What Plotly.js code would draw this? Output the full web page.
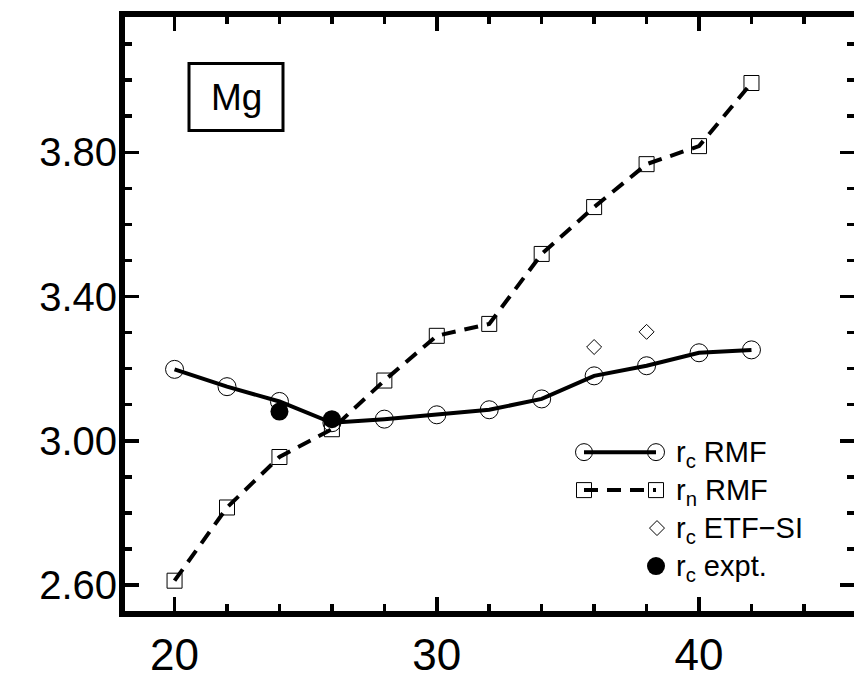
<!DOCTYPE html>
<html>
<head>
<meta charset="utf-8">
<script src="https://cdn.plot.ly/plotly-3.0.1.min.js"></script>
<style>html,body{margin:0;padding:0;overflow:hidden;background:#fff}</style>
</head>
<body>
<div id="chart" style="width:854px;height:683px"></div>
<script>
// Mass number A
const massNumber = [20, 22, 24, 26, 28, 30, 32, 34, 36, 38, 40, 42];
// r_c RMF (charge radius)
const rcRMF = [3.198, 3.150, 3.109, 3.050, 3.060, 3.072, 3.086, 3.116, 3.180, 3.208, 3.244, 3.252];
// r_n RMF (neutron radius)
const rnRMF = [2.612, 2.815, 2.955, 3.032, 3.167, 3.291, 3.324, 3.518, 3.648, 3.767, 3.817, 3.992];
// r_c ETF-SI
const etfA = [36, 38];
const rcETF = [3.260, 3.302];
// r_c experiment
const exptA = [24, 26];
const rcExpt = [3.081, 3.060];
// Legend labels
const legendLabels = ["r<sub>c</sub> RMF", "r<sub>n</sub> RMF", "r<sub>c</sub> ETF\u2212SI", "r<sub>c</sub> expt."];
const xTicks = [20, 30, 40];
const yTicks = [2.6, 3.0, 3.4, 3.8];

const FONT = "Liberation Sans, Arial, Helvetica, sans-serif";
const L = 125, R = 854, T = 16.5, B = 611;

const traces = [
  {x: massNumber, y: rnRMF, mode: "lines+markers", xaxis: "x", yaxis: "y",
   line: {color: "black", width: 4, dash: "14px,9px"},
   marker: {symbol: "square-open", size: 15, color: "black", line: {width: 1, color: "black"}}},
  {x: massNumber, y: rcRMF, mode: "lines+markers", xaxis: "x", yaxis: "y",
   line: {color: "black", width: 4},
   marker: {symbol: "circle-open", size: 18, color: "black", line: {width: 1, color: "black"}}},
  {x: etfA, y: rcETF, mode: "markers", xaxis: "x", yaxis: "y",
   marker: {symbol: "diamond-open", size: 11.5, color: "black", line: {width: 1, color: "black"}}},
  {x: exptA, y: rcExpt, mode: "markers", xaxis: "x", yaxis: "y",
   marker: {symbol: "circle", size: 18, color: "black"}},
  // legend keys (pixel-coordinate overlay axes)
  {x: [584, 656], y: [452, 452], mode: "lines+markers", xaxis: "x2", yaxis: "y2",
   line: {color: "black", width: 4},
   marker: {symbol: "circle-open", size: 17, color: "black", line: {width: 1}}},
  {x: [584, 656], y: [490, 490], mode: "lines+markers", xaxis: "x2", yaxis: "y2",
   line: {color: "black", width: 4, dash: "14px,9px"},
   marker: {symbol: "square-open", size: 15, color: "black", line: {width: 1}}},
  {x: [657], y: [528], mode: "markers", xaxis: "x2", yaxis: "y2",
   marker: {symbol: "diamond-open", size: 11.5, color: "black", line: {width: 1}}},
  {x: [656], y: [566], mode: "markers", xaxis: "x2", yaxis: "y2",
   marker: {symbol: "circle", size: 18, color: "black"}}
];

const legendY = [452, 490, 528, 566];
const annotations = legendLabels.map((t, i) => ({
  xref: "x2", yref: "y2", x: 674, y: legendY[i] + 2, xanchor: "left", yanchor: "middle",
  text: t, showarrow: false, font: {family: FONT, size: 29, color: "black"}
}));
annotations.push({xref: "x2", yref: "y2", x: 236, y: 97, text: "Mg", showarrow: false,
  xanchor: "center", yanchor: "middle", font: {family: FONT, size: 37, color: "black"}});

const layout = {
  width: 854, height: 683,
  margin: {l: L, r: 854 - R, t: T, b: 683 - B, pad: 0},
  paper_bgcolor: "white", plot_bgcolor: "white",
  showlegend: false,
  font: {family: FONT, color: "black"},
  xaxis: {
    range: [18.11, 45.91], showgrid: false, zeroline: false,
    showline: true, linewidth: 6, linecolor: "black", mirror: "ticks",
    ticks: "inside", ticklen: 14, tickwidth: 3.5, tickcolor: "black",
    tickvals: xTicks, ticktext: xTicks.map(String),
    tickfont: {family: FONT, size: 44, color: "black"}, ticklabelstandoff: 0,
    minor: {ticks: "inside", dtick: 2, tick0: 20, ticklen: 7, tickwidth: 3.5, tickcolor: "black", showgrid: false}
  },
  yaxis: {
    range: [2.528, 4.175], showgrid: false, zeroline: false,
    showline: true, linewidth: 6, linecolor: "black", mirror: "ticks",
    ticks: "inside", ticklen: 14, tickwidth: 3.5, tickcolor: "black",
    tickvals: yTicks, ticktext: yTicks.map(v => v.toFixed(2)),
    tickfont: {family: FONT, size: 40, color: "black"}, ticklabelstandoff: -6,
    minor: {ticks: "inside", dtick: 0.1, tick0: 2.6, ticklen: 7, tickwidth: 3.5, tickcolor: "black", showgrid: false}
  },
  xaxis2: {overlaying: "x", range: [L, R], visible: false, fixedrange: true},
  yaxis2: {overlaying: "y", range: [B, T], visible: false, fixedrange: true},
  shapes: [
    {type: "rect", xref: "x2", yref: "y2", x0: 189, x1: 283, y0: 63, y1: 130,
     line: {color: "black", width: 3}, fillcolor: "rgba(0,0,0,0)"}
  ],
  annotations: annotations
};

Plotly.newPlot("chart", traces, layout, {displayModeBar: false, staticPlot: true});
</script>
</body>
</html>
